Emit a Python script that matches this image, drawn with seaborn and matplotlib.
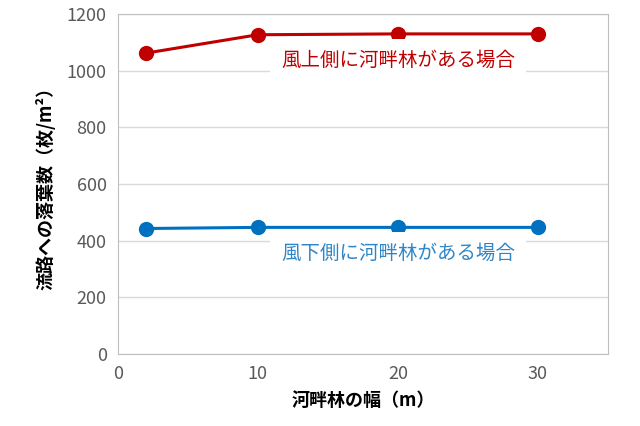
import matplotlib
matplotlib.use("Agg")
import matplotlib.pyplot as plt
import seaborn as sns
import pandas as pd

widths = [2, 10, 20, 30]
upwind = [1062, 1127, 1130, 1130]
downwind = [443, 447, 447, 447]
label_up = "風上側に河畔林がある場合"
label_down = "風下側に河畔林がある場合"

plt.rcParams["font.family"] = "Noto Sans CJK JP"
df = pd.concat([
    pd.DataFrame({"w": widths, "v": upwind, "s": label_up}),
    pd.DataFrame({"w": widths, "v": downwind, "s": label_down}),
])
fig = plt.figure(figsize=(6.4, 4.26), dpi=100)
ax = fig.add_axes([0.184, 0.169, 0.766, 0.798])
sns.lineplot(data=df, x="w", y="v", hue="s", palette={label_up: "#C00000", label_down: "#0070C0"},
             marker="o", markersize=11, markeredgewidth=0, linewidth=2.2, ax=ax, legend=False)
ax.set_xlim(0, 35)
ax.set_ylim(0, 1200)
ax.set_xticks([0, 10, 20, 30])
ax.set_yticks(range(0, 1201, 200))
ax.grid(axis="y", color="#D9D9D9", linewidth=1)
ax.set_axisbelow(True)
for s in ax.spines.values():
    s.set_color("#BFBFBF")
ax.tick_params(length=0, labelsize=13, colors="#595959", pad=8)
ax.set_xlabel("河畔林の幅（m）", fontsize=13, fontweight="bold", labelpad=6)
ax.set_ylabel("流路への落葉数（枚/m²）", fontsize=13, fontweight="bold", labelpad=8)
ax.text(20.0, 1035, label_up, color="#C00000", fontsize=14, ha="center", va="center",
        bbox=dict(facecolor="white", edgecolor="none", pad=8))
ax.text(20.0, 355, label_down, color="#2E86C8", fontsize=14, ha="center", va="center",
        bbox=dict(facecolor="white", edgecolor="none", pad=8))
fig.savefig("out.png", dpi=100)
